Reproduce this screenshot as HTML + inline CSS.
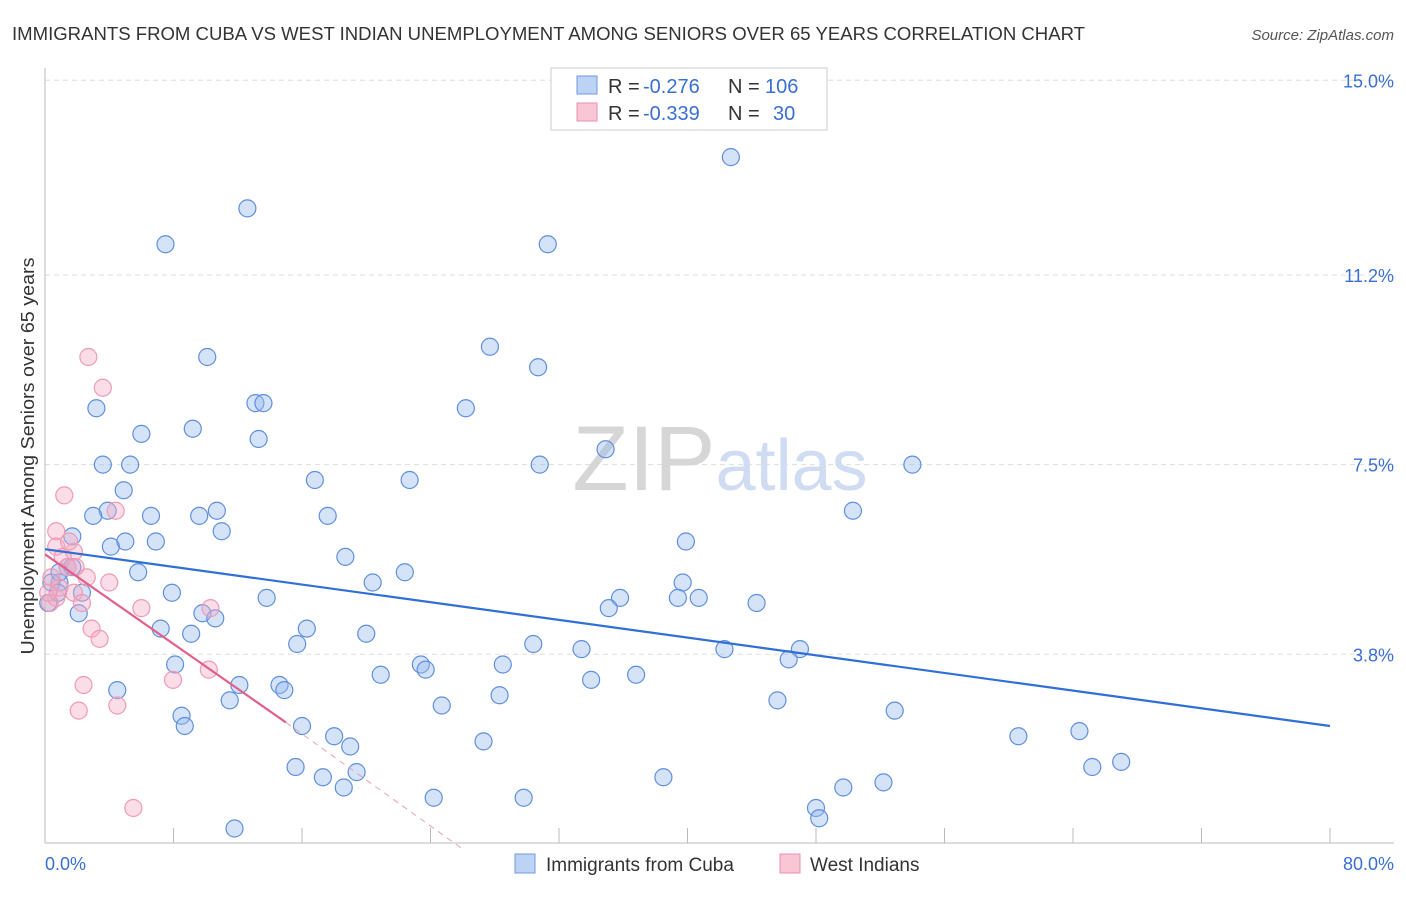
<!DOCTYPE html>
<html><head><meta charset="utf-8"><style>
body{margin:0;background:#fff;font-family:"Liberation Sans",sans-serif;}
svg text{font-family:"Liberation Sans",sans-serif;}
</style></head><body>
<svg id="chart" width="1406" height="892" xmlns="http://www.w3.org/2000/svg">
<text x="12" y="40" font-size="18" fill="#333" textLength="1073" lengthAdjust="spacingAndGlyphs">IMMIGRANTS FROM CUBA VS WEST INDIAN UNEMPLOYMENT AMONG SENIORS OVER 65 YEARS CORRELATION CHART</text>
<text x="1394" y="40" font-size="15" fill="#555" text-anchor="end" font-style="italic">Source: ZipAtlas.com</text>
<g id="grid"></g>
<text x="720" y="490" font-size="92" text-anchor="middle" fill="#ddd" font-family="Liberation Serif"><tspan fill="#d6d6d6">ZIP</tspan><tspan fill="#cfdcf2" font-family="Liberation Sans" font-size="72">atlas</tspan></text>
<g id="pts"></g>
<g id="lines"></g>
<text transform="translate(34,456) rotate(-90)" font-size="18" fill="#333" text-anchor="middle" textLength="397" lengthAdjust="spacingAndGlyphs">Unemployment Among Seniors over 65 years</text>
<text x="45" y="870" font-size="18" fill="#3a6fd1">0.0%</text>
<text x="1394" y="870" font-size="18" fill="#3a6fd1" text-anchor="end">80.0%</text>
<g>
<rect x="551" y="68" width="276" height="62" fill="#fff" stroke="#ccc"/>
<rect x="577" y="76" width="20" height="18" fill="#bcd3f5" stroke="#6f9ae0"/>
<rect x="577" y="103" width="20" height="18" fill="#f8c6d5" stroke="#e890ab"/>
<text x="608" y="93" font-size="20" fill="#333">R =</text>
<text x="643" y="93" font-size="20" fill="#3a6fd1">-0.276</text>
<text x="728" y="93" font-size="20" fill="#333">N =</text>
<text x="765" y="93" font-size="20" fill="#3a6fd1">106</text>
<text x="608" y="120" font-size="20" fill="#333">R =</text>
<text x="643" y="120" font-size="20" fill="#3a6fd1">-0.339</text>
<text x="728" y="120" font-size="20" fill="#333">N =</text>
<text x="773" y="120" font-size="20" fill="#3a6fd1">30</text>
</g>
<g>
<rect x="515" y="854" width="20" height="19" fill="#bcd3f5" stroke="#6f9ae0"/>
<text x="546" y="871" font-size="19" fill="#333">Immigrants from Cuba</text>
<rect x="780" y="854" width="20" height="19" fill="#f8c6d5" stroke="#e890ab"/>
<text x="810" y="871" font-size="19" fill="#333">West Indians</text>
</g>
</svg>
<script>
const yTicks=[3.8,7.5,11.2,15.0];
const yTickLabels=["3.8%","7.5%","11.2%","15.0%"];
const xTicks=[0,8,16,24,32,40,48,56,64,72,80];
const cubaX=[42.7,12.6,7.5,31.3,27.7,10.1,30.7,3.2,13.1,13.6,26.2,6.0,9.2,13.3,34.9,3.6,5.3,30.8,54.0,16.8,22.7,4.9,3.9,3.0,6.6,9.6,10.7,17.6,50.3,11.0,1.7,5.0,6.9,4.1,39.9,18.7,1.4,0.9,5.8,22.4,20.4,39.7,7.9,13.8,2.3,35.8,40.7,39.4,35.1,44.3,2.1,9.8,10.6,16.3,7.2,9.1,20.0,15.7,30.4,33.4,42.3,47.0,46.3,8.1,23.4,23.7,28.5,20.9,36.8,34.0,4.5,12.1,14.6,14.9,28.3,11.5,45.6,24.7,52.9,8.5,8.7,16.0,18.0,60.6,64.4,19.0,27.3,15.6,19.4,65.2,67.0,17.3,38.5,18.6,49.7,52.2,24.2,29.8,48.0,48.2,11.8,0.2,0.4,0.8,1.7,0.9];
const cubaY=[13.5,12.5,11.8,11.8,9.8,9.6,9.4,8.6,8.7,8.7,8.6,8.1,8.2,8.0,7.8,7.5,7.5,7.5,7.5,7.2,7.2,7.0,6.6,6.5,6.5,6.5,6.6,6.5,6.6,6.2,6.1,6.0,6.0,5.9,6.0,5.7,5.5,5.2,5.4,5.4,5.2,5.2,5.0,4.9,5.0,4.9,4.9,4.9,4.7,4.8,4.6,4.6,4.5,4.3,4.3,4.2,4.2,4.0,4.0,3.9,3.9,3.9,3.7,3.6,3.6,3.5,3.6,3.4,3.4,3.3,3.1,3.2,3.2,3.1,3.0,2.9,2.9,2.8,2.7,2.6,2.4,2.4,2.2,2.2,2.3,2.0,2.1,1.6,1.5,1.6,1.7,1.4,1.4,1.2,1.2,1.3,1.0,1.0,0.8,0.6,0.4,4.8,5.2,5.0,5.5,5.4];
const wiX=[2.7,3.6,1.2,0.7,4.4,0.7,1.8,1.1,1.4,2.6,4.0,1.8,0.7,2.3,6.0,10.3,2.9,3.4,7.97,10.2,2.4,2.1,4.5,5.5,0.3,0.9,1.5,0.2,0.4,1.9];
const wiY=[9.6,9.0,6.9,6.2,6.6,5.9,5.8,5.7,5.5,5.3,5.2,5.0,4.9,4.8,4.7,4.7,4.3,4.1,3.3,3.5,3.2,2.7,2.8,0.8,4.8,5.1,6.0,5.0,5.3,5.5];
const cubaTrend=[0,5.85,80,2.4];
const wiTrend=[0,5.75,15,2.47,26,0.0];
const X=v=>45+v/80*1285, Y=v=>849-v*51.25;
const ns="http://www.w3.org/2000/svg";
function mk(t,a,p){const e=document.createElementNS(ns,t);for(const k in a)e.setAttribute(k,a[k]);p.appendChild(e);return e;}
const g=document.getElementById('grid');
yTicks.forEach((v,i)=>{
 const l=mk('line',{x1:45,x2:1394,y1:Y(v),y2:Y(v),stroke:'#ddd','stroke-dasharray':'5,4'},g);
 
 
 const t=mk('text',{x:1394,y:Y(v)+7,'font-size':18,fill:'#3a6fd1','text-anchor':'end'},g);
 t.textContent=yTickLabels[i];
 
 
});
const ax=mk('line',{x1:45,x2:45,y1:68,y2:843,stroke:'#bbb'},g);


const bx=mk('line',{x1:45,x2:1394,y1:843,y2:843,stroke:'#bbb'},g);


xTicks.forEach(v=>{
 const t=mk('line',{x1:X(v),x2:X(v),y1:828,y2:843,stroke:'#bbb'},g);
 
 
});
const p=document.getElementById('pts');
cubaX.forEach((v,i)=>{
 const c=mk('circle',{cx:X(v),cy:Y(cubaY[i]),r:8.5,fill:'rgba(150,185,240,0.4)',stroke:'#5f8fdc','stroke-width':1.2},p);
 
 
});
wiX.forEach((v,i)=>{
 const c=mk('circle',{cx:X(v),cy:Y(wiY[i]),r:8.5,fill:'rgba(245,170,195,0.4)',stroke:'#ee9ab4','stroke-width':1.2},p);
 
 
});
const L=document.getElementById('lines');
const bl=mk('line',{x1:X(cubaTrend[0]),y1:Y(cubaTrend[1]),x2:X(cubaTrend[2]),y2:Y(cubaTrend[3]),stroke:'#2f6fd6','stroke-width':2.2},L);


const pl=mk('line',{x1:X(wiTrend[0]),y1:Y(wiTrend[1]),x2:X(wiTrend[2]),y2:Y(wiTrend[3]),stroke:'#e0608a','stroke-width':2.2},L);


const pd=mk('line',{x1:X(wiTrend[2]),y1:Y(wiTrend[3]),x2:X(wiTrend[4]),y2:Y(wiTrend[5]),stroke:'#e8a0b8','stroke-width':1,'stroke-dasharray':'6,5'},L);


</script>
</body></html>
